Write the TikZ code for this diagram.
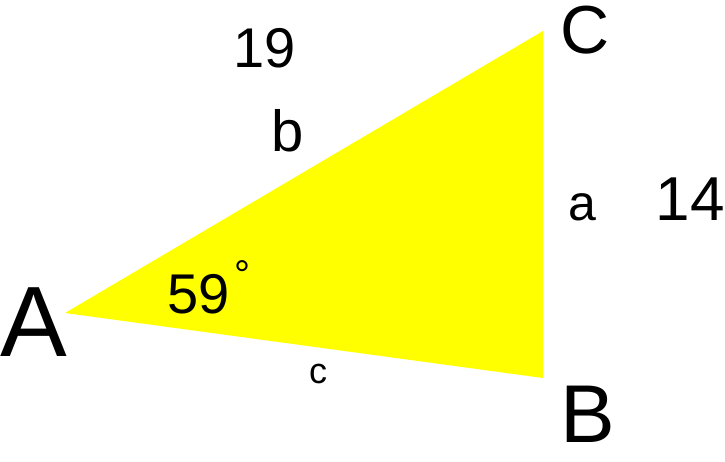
\documentclass[tikz,border=0pt]{standalone}
\usepackage{fontspec}
\setmainfont{Liberation Sans}
\definecolor{brightYellow}{RGB}{255,255,0}
\newcommand{\handsize}[1]{\fontsize{#1}{#1}\selectfont}

\begin{document}
\begin{tikzpicture}[x=1pt,y=-1pt,
  every node/.style={inner sep=0pt,text=black},
  vlabel/.style={font=\handsize{66pt}},
  slabel/.style={font=\handsize{46pt}},
  num/.style={font=\handsize{56pt}}]
\useasboundingbox (0,0) rectangle (725,461);
\coordinate (A) at (65,313);
\coordinate (B) at (543,378);
\coordinate (C) at (543,31);
\fill[brightYellow] (A) -- (C) -- (B) -- cycle;
% vertex names
\node[vlabel,font=\handsize{100pt}] (nA) at (34,322) {A};
\node[vlabel,font=\handsize{68pt}] (nC) at (585,30) {C};
\node[vlabel,font=\handsize{82pt}] (nB) at (588,414) {B};
% sides
\node[slabel,font=\handsize{58pt}] (nb) at (288,131) {b};
\node[slabel,font=\handsize{50pt}] (na) at (582,207) {a};
\node[slabel,font=\handsize{36pt}] (nc) at (318,374) {c};
% lengths and angle
\node[num] (l19) at (265,48) {19};
\node[num,font=\handsize{62pt}] (l14) at (690,199) {14};
\node[num] (ang) at (209,287) {59\hspace{4pt}\raisebox{0.45em}{\handsize{40pt}°}};
\end{tikzpicture}
\end{document}
